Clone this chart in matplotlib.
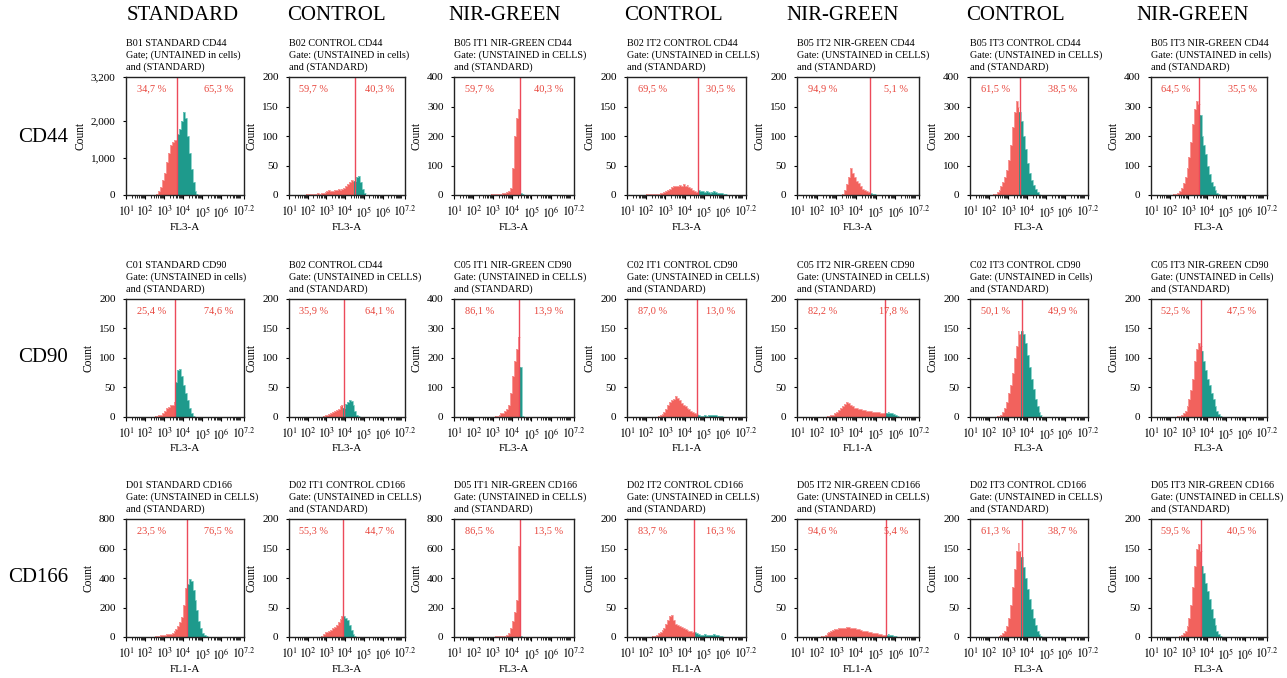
import matplotlib
matplotlib.use("Agg")
import matplotlib.pyplot as plt
import matplotlib.ticker as mticker
import numpy as np

BIN = 0.1  # histogram bin width, in decades of fluorescence

HEADERS = ["STANDARD", "CONTROL", "NIR-GREEN", "CONTROL", "NIR-GREEN", "CONTROL", "NIR-GREEN"]
MARKERS = ["CD44", "CD90", "CD166"]
XTICK_EXP = [1, 2, 3, 4, 5, 6, 7.2]
XTICK_LABELS = [r"$10^{1}$", r"$10^{2}$", r"$10^{3}$", r"$10^{4}$", r"$10^{5}$", r"$10^{6}$", r"$10^{7.2}$"]
YTICKS = {3200: [0, 1000, 2000, 3200], 200: [0, 50, 100, 150, 200],
          400: [0, 100, 200, 300, 400], 800: [0, 200, 400, 600, 800]}

# ---- CD44 row ----
cd44_titles = ["B01 STANDARD CD44", "B02 CONTROL CD44", "B05 IT1 NIR-GREEN CD44", "B02 IT2 CONTROL CD44",
               "B05 IT2 NIR-GREEN CD44", "B05 IT3 CONTROL CD44", "B05 IT3 NIR-GREEN CD44"]
cd44_gatetxt = ["Gate; (UNTAINED in cells)", "Gate: (UNSTAINED in cells)", "Gate: (UNSTAINED in CELLS)",
                "Gate: (UNSTAINED in CELLS)", "Gate: (UNSTAINED in CELLS)", "Gate: (UNSTAINED in CELLS)",
                "Gate: (UNSTAINED in cells)"]
cd44_ymax = [3200, 200, 400, 200, 200, 400, 400]
cd44_gate = [3.67, 4.53, 4.41, 4.71, 4.72, 3.62, 3.57]
cd44_left = ["34,7 %", "59,7 %", "59,7 %", "69,5 %", "94,9 %", "61,5 %", "64,5 %"]
cd44_right = ["65,3 %", "40,3 %", "40,3 %", "30,5 %", "5,1 %", "38,5 %", "35,5 %"]
cd44_xlab = ["FL3-A"] * 7
cd44_start = [2.5, 1.9, 2.9, 2.0, 3.3, 2.2, 2.2]
cd44_counts = [
    [10, 30, 100, 220, 400, 600, 900, 1150, 1350, 1450, 1480, 1500,
     1650, 1800, 2000, 2250, 2100, 1600, 1150, 700, 350, 120, 20],
    [1, 1, 2, 1, 2, 2, 3, 2, 3, 3, 5, 6, 8, 7, 6, 8, 8, 10, 9, 10,
     12, 15, 18, 22, 25, 24, 24, 30, 32, 22, 10, 3],
    [2, 3, 3, 4, 4, 5, 6, 8, 10, 12, 25, 90, 200, 260, 290, 8, 2],
    [1, 1, 1, 1, 1, 1, 2, 3, 4, 5, 6, 8, 10, 13, 15, 16, 15, 17, 16, 18, 16, 17, 14, 12, 8, 6, 5,
     8, 7, 6, 5, 6, 5, 4, 5, 6, 5, 4, 3, 3, 2, 1],
    [2, 8, 18, 30, 45, 38, 30, 24, 20, 15, 10, 8, 6, 5, 3, 2, 1],
    [2, 5, 10, 18, 30, 45, 60, 85, 120, 170, 230, 280, 320, 300,
     280, 250, 200, 155, 110, 75, 50, 35, 20, 10, 4],
    [2, 4, 8, 15, 25, 40, 60, 90, 130, 180, 240, 290, 320, 310,
     270, 200, 170, 140, 100, 70, 45, 30, 18, 8, 3],
]

# ---- CD90 row ----
cd90_titles = ["C01 STANDARD CD90", "B02 CONTROL CD44", "C05 IT1 NIR-GREEN CD90", "C02 IT1 CONTROL CD90",
               "C05 IT2 NIR-GREEN CD90", "C02 IT3 CONTROL CD90", "C05 IT3 NIR-GREEN CD90"]
cd90_gatetxt = ["Gate: (UNSTAINED in cells)", "Gate: (UNSTAINED in CELLS)", "Gate: (UNSTAINED in CELLS)",
                "Gate: (UNSTAINED in CELLS)", "Gate: (UNSTAINED in CELLS)", "Gate: (UNSTAINED in Cells)",
                "Gate: (UNSTAINED in Cells)"]
cd90_ymax = [200, 200, 400, 200, 200, 200, 200]
cd90_gate = [3.58, 3.94, 4.36, 4.66, 5.47, 3.72, 3.66]
cd90_left = ["25,4 %", "35,9 %", "86,1 %", "87,0 %", "82,2 %", "50,1 %", "52,5 %"]
cd90_right = ["74,6 %", "64,1 %", "13,9 %", "13,0 %", "17,8 %", "49,9 %", "47,5 %"]
cd90_xlab = ["FL3-A", "FL3-A", "FL3-A", "FL1-A", "FL1-A", "FL3-A", "FL3-A"]
cd90_start = [2.5, 2.8, 3.1, 2.6, 2.5, 2.4, 2.4]
cd90_counts = [
    [1, 2, 3, 4, 6, 10, 15, 17, 20, 20, 25, 60, 80, 82, 70, 55, 40, 28, 15, 7, 2],
    [2, 3, 4, 5, 6, 8, 10, 12, 14, 18, 20, 15, 22, 25, 28, 27, 20, 10, 4, 1],
    [2, 5, 8, 12, 15, 20, 28, 40, 80, 140, 190, 230, 270, 170, 3],
    [1, 3, 5, 8, 14, 20, 25, 28, 30, 35, 32, 28, 24, 20, 18, 15, 13, 10, 8, 6, 5,
     3, 2, 2, 3, 2, 3, 4, 3, 4, 3, 2, 2, 1],
    [1, 2, 3, 4, 6, 9, 12, 16, 19, 22, 25, 24, 21, 18, 16, 15, 14, 13, 12, 12,
     11, 10, 10, 9, 9, 8, 8, 7, 7, 6, 6, 8, 7, 6, 5, 3, 2],
    [1, 2, 4, 8, 15, 25, 40, 55, 75, 100, 120, 145, 140,
     145, 140, 125, 105, 85, 65, 48, 30, 18, 8, 3],
    [1, 2, 4, 7, 11, 18, 30, 45, 65, 95, 115, 125, 120,
     112, 95, 80, 65, 55, 40, 30, 18, 10, 5, 1],
]

# ---- CD166 row ----
cd166_titles = ["D01 STANDARD CD166", "D02 IT1 CONTROL CD166", "D05 IT1 NIR-GREEN CD166",
                "D02 IT2 CONTROL CD166", "D05 IT2 NIR-GREEN CD166", "D02 IT3 CONTROL CD166",
                "D05 IT3 NIR-GREEN CD166"]
cd166_gatetxt = ["Gate: (UNSTAINED in CELLS)"] * 7
cd166_ymax = [800, 200, 800, 200, 200, 200, 200]
cd166_gate = [4.19, 3.89, 4.43, 4.49, 5.53, 3.72, 3.67]
cd166_left = ["23,5 %", "55,3 %", "86,5 %", "83,7 %", "94,6 %", "61,3 %", "59,5 %"]
cd166_right = ["76,5 %", "44,7 %", "13,5 %", "16,3 %", "5,4 %", "38,7 %", "40,5 %"]
cd166_xlab = ["FL1-A", "FL3-A", "FL3-A", "FL1-A", "FL1-A", "FL3-A", "FL3-A"]
cd166_start = [2.4, 2.7, 3.0, 2.3, 2.2, 2.5, 2.5]
cd166_counts = [
    [3, 5, 8, 10, 12, 14, 15, 17, 18, 20, 28, 40, 55, 75, 100, 135, 220, 330,
     360, 390, 380, 320, 250, 180, 110, 60, 30, 12, 4],
    [2, 5, 8, 9, 11, 12, 15, 17, 20, 25, 30, 35, 36, 33, 28, 20, 12, 5, 2],
    [3, 4, 5, 6, 7, 8, 10, 15, 30, 60, 110, 170, 250, 620, 8, 2],
    [1, 2, 4, 6, 9, 12, 16, 22, 28, 35, 38, 28, 22, 20, 19, 17, 15, 14, 12, 11, 10, 9,
     8, 6, 5, 4, 4, 5, 4, 4, 3, 4, 5, 4, 3, 2, 1],
    [1, 2, 4, 6, 8, 10, 12, 13, 14, 15, 15, 16, 16, 17, 17, 16, 15, 15, 14, 13,
     12, 11, 10, 10, 9, 8, 7, 6, 6, 5, 5, 4, 4, 4, 5, 4, 3, 2, 1],
    [1, 3, 6, 10, 18, 32, 55, 85, 115, 145, 160, 145,
     135, 118, 100, 82, 65, 48, 32, 20, 10, 5, 1],
    [1, 3, 6, 10, 18, 32, 55, 85, 120, 150, 158, 145,
     120, 108, 92, 78, 65, 48, 33, 20, 10, 5, 1],
]

rows = [
    (cd44_titles, cd44_gatetxt, cd44_ymax, cd44_gate, cd44_left, cd44_right, cd44_xlab, cd44_start, cd44_counts),
    (cd90_titles, cd90_gatetxt, cd90_ymax, cd90_gate, cd90_left, cd90_right, cd90_xlab, cd90_start, cd90_counts),
    (cd166_titles, cd166_gatetxt, cd166_ymax, cd166_gate, cd166_left, cd166_right, cd166_xlab, cd166_start, cd166_counts),
]

# layout in pixels of the 1287x678 canvas
W, H = 1287, 678
col_left = [126, 289, 454, 627, 797, 970, 1151]
col_right = [244, 405, 574, 746, 919, 1088, 1267]
row_top = [77, 299, 519]
row_bot = [195, 417, 637]
header_x = [183, 336, 505, 673, 843, 1015, 1193]
marker_y = [137, 358, 578]

RED = "#F2625D"
RED_LT = "#F8A3A3"
TEAL = "#1E9A8C"
TEAL_LT = "#7ACDC3"
GATE = "#EC4A5A"
PCT = "#E8453C"
SERIF = "Liberation Serif"

plt.rcParams["font.family"] = SERIF
plt.rcParams["mathtext.fontset"] = "stix"

fig = plt.figure(figsize=(W / 100, H / 100), dpi=100)

for c, name in enumerate(HEADERS):
    fig.text(header_x[c] / W, 1 - 16 / H, name, ha="center", va="center", fontsize=15)

for r, (titles, gtxt, ymaxs, gates, lefts, rights, xlabs, starts, counts) in enumerate(rows):
    fig.text(68 / W, 1 - marker_y[r] / H, MARKERS[r], ha="right", va="center", fontsize=15)
    for c in range(7):
        x0, x1 = col_left[c], col_right[c]
        y0, y1 = row_top[r], row_bot[r]
        ax = fig.add_axes([x0 / W, 1 - y1 / H, (x1 - x0) / W, (y1 - y0) / H])

        h = np.asarray(counts[c], float)
        edges = starts[c] + BIN * np.arange(len(h) + 1)
        centers = edges[:-1] + BIN / 2
        k = int(np.sum(centers < gates[c]))
        xe = 10 ** edges
        if k > 0:
            ax.stairs(h[:k], xe[:k + 1], fill=True, color=RED, lw=0)
            ax.stairs(h[:k], xe[:k + 1], color=RED_LT, lw=0.6, baseline=None)
        if k < len(h):
            ax.stairs(h[k:], xe[k:], fill=True, color=TEAL, lw=0)
            ax.stairs(h[k:], xe[k:], color=TEAL_LT, lw=0.6, baseline=None)
        ax.axvline(10 ** gates[c], color=GATE, lw=1.0)

        ax.set_xscale("log")
        ax.set_xlim(10, 10 ** 7.2)
        ax.set_xticks([10 ** e for e in XTICK_EXP])
        ax.set_xticklabels(XTICK_LABELS)
        ax.xaxis.set_minor_locator(mticker.LogLocator(base=10, subs=np.arange(1, 10), numticks=30))
        ax.xaxis.set_minor_formatter(mticker.NullFormatter())
        ax.set_ylim(0, ymaxs[c])
        ax.set_yticks(YTICKS[ymaxs[c]])
        ax.yaxis.set_major_formatter(mticker.FuncFormatter(lambda v, p: f"{v:,.0f}"))

        ax.tick_params(axis="x", which="major", direction="out", length=3, width=0.8, pad=4, labelsize=8.3)
        ax.tick_params(axis="x", which="minor", direction="out", length=2.2, width=0.6)
        ax.tick_params(axis="y", direction="out", length=2.5, width=0.8, pad=5, labelsize=8)
        for sp in ax.spines.values():
            sp.set_color("#222222")
            sp.set_linewidth(1.0)

        ax.set_xlabel(xlabs[c], fontsize=8, labelpad=2)
        ax.set_ylabel("Count", fontsize=8.3, labelpad=3)

        ax.text(0.09, 0.9, lefts[c], transform=ax.transAxes, color=PCT, fontsize=7.4, ha="left", va="center")
        ax.text(0.91, 0.9, rights[c], transform=ax.transAxes, color=PCT, fontsize=7.4, ha="right", va="center")

        fig.text(x0 / W, 1 - (y0 - 5) / H, f"{titles[c]}\n{gtxt[c]}\nand (STANDARD)",
                 ha="left", va="bottom", fontsize=7.3, linespacing=1.3)

fig.savefig("out.png", dpi=100)
